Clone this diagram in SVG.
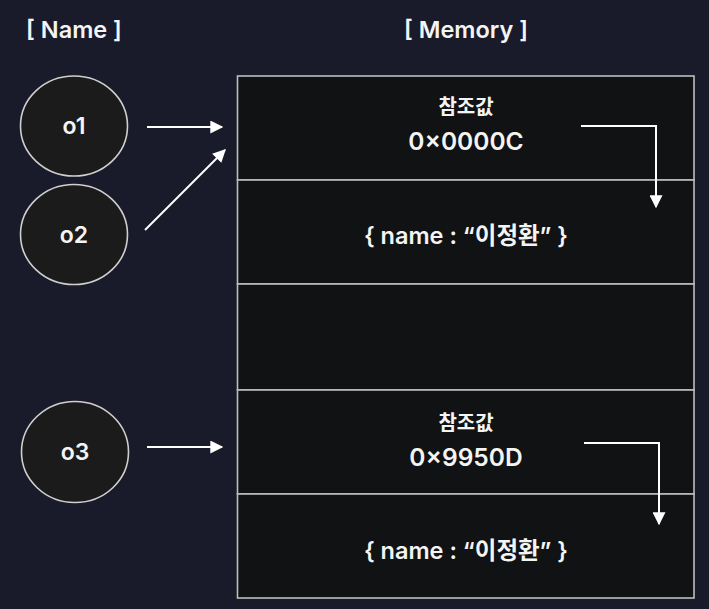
<svg xmlns="http://www.w3.org/2000/svg" width="709" height="609" viewBox="0 0 709 609">
<defs>
<style>
.t{font-family:Inter,"Noto Sans CJK KR","Noto Sans",sans-serif;fill:#f4f4f4;font-weight:600;text-anchor:middle}
.c{fill:#1b1b1b;stroke:#cfcfcf;stroke-width:1.6}
.row{fill:#101213;stroke:#bdbdbd;stroke-width:1.6}
.a{stroke:#ffffff;stroke-width:2;fill:none}
</style>
<marker id="ah" viewBox="0 0 10 10" refX="9" refY="5" markerWidth="14" markerHeight="13" markerUnits="userSpaceOnUse" orient="auto">
<path d="M0,0 L10,5 L0,10 z" fill="#ffffff"/>
</marker>
</defs>
<rect width="709" height="609" fill="#1a1b2a"/>
<text class="t" x="74" y="38" font-size="23.5">[ Name ]</text>
<text class="t" x="466" y="38" font-size="23.5">[ Memory ]</text>
<g id="memory">
<rect class="row" x="237.5" y="76" width="456.5" height="104"/>
<rect class="row" x="237.5" y="180" width="456.5" height="104"/>
<rect class="row" x="237.5" y="284" width="456.5" height="106"/>
<rect class="row" x="237.5" y="390" width="456.5" height="104"/>
<rect class="row" x="237.5" y="494" width="456.5" height="104"/>
</g>
<g id="ref1">
<text class="t" x="466" y="114" font-size="20">참조값</text>
<text class="t" x="466" y="150" font-size="24.5" font-weight="500">0×0000C</text>
</g>
<g id="obj1">
<text class="t" x="466" y="244" font-size="23.5" font-weight="500">{ name : “이정환” }</text>
</g>
<g id="ref2">
<text class="t" x="466" y="430" font-size="20">참조값</text>
<text class="t" x="466" y="466" font-size="24.5" font-weight="500">0×9950D</text>
</g>
<g id="obj2">
<text class="t" x="466" y="559" font-size="23.5" font-weight="500">{ name : “이정환” }</text>
</g>
<g id="o1"><ellipse class="c" cx="74" cy="126" rx="53.5" ry="50"/><text class="t" x="74" y="134" font-size="23">o1</text></g>
<g id="o2"><ellipse class="c" cx="74" cy="234.5" rx="53.5" ry="50"/><text class="t" x="74" y="242.5" font-size="23">o2</text></g>
<g id="o3"><ellipse class="c" cx="75" cy="452" rx="53.5" ry="50.5"/><text class="t" x="75" y="460" font-size="23">o3</text></g>
<g id="connectors">
<line class="a" x1="147" y1="127" x2="222" y2="127" marker-end="url(#ah)"/>
<line class="a" x1="145" y1="230" x2="225" y2="150" marker-end="url(#ah)"/>
<line class="a" x1="147" y1="447" x2="222" y2="447" marker-end="url(#ah)"/>
<polyline class="a" points="581,126 656,126 656,207" marker-end="url(#ah)"/>
<polyline class="a" points="584,443 659,443 659,524" marker-end="url(#ah)"/>
</g>
</svg>
